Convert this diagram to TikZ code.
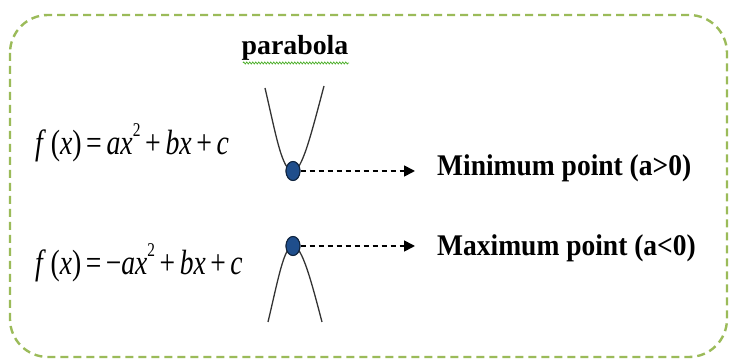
\documentclass[tikz,border=0pt]{standalone}
\usepackage{fontspec}
\setmainfont{Liberation Serif}
\usetikzlibrary{arrows.meta,decorations.pathmorphing,shapes.geometric}
\definecolor{boxgreen}{HTML}{9BBB59}
\definecolor{dotblue}{HTML}{1F4E8C}
\definecolor{dotedge}{HTML}{10243E}
\definecolor{squig}{HTML}{4CAF2A}
\newcommand{\sqtwo}{\raisebox{0.5em}{\fontsize{15}{15}\selectfont 2}}
\tikzset{
  frame/.style={draw=boxgreen, line width=2.4pt, dash pattern=on 8pt off 5pt, rounded corners=38pt},
  formula/.style={inner sep=0pt, anchor=west, font=\fontsize{27}{30}\selectfont},
  label/.style={inner sep=0pt, anchor=west, font=\bfseries\fontsize{25}{30}\selectfont},
  title/.style={inner sep=0pt, font=\bfseries\fontsize{24}{28}\selectfont},
  curve/.style={draw=black!80, line width=1.3pt},
  vertex/.style={ellipse, draw=dotedge, fill=dotblue, line width=1pt, minimum width=14pt, minimum height=19pt, inner sep=0pt},
  darrow/.style={draw=black, line width=1.7pt, dash pattern=on 5pt off 4pt, -{Triangle[length=11pt,width=11pt]}},
}
\begin{document}
\begin{tikzpicture}[x=1pt,y=-1pt]
\useasboundingbox (0,0) rectangle (729,363);
\draw[frame] (10,15) rectangle (727,357);
\node[title] (par) at (295,48) {\scalebox{1.16}[1.15]{parabola}};
\draw[squig, line width=0.7pt, decorate, decoration={zigzag, segment length=3pt, amplitude=1.1pt}] (243,63) -- (349,63);
\node[formula] (f1) at (35,143) {\scalebox{1.03}[1.3]{\textit{f}\,(\textit{x})\,=\,\textit{ax}\sqtwo\,+\,\textit{bx}\,+\,\textit{c}}};
\node[formula] (f2) at (35,263) {\scalebox{1.02}[1.3]{\textit{f}\,(\textit{x})\,=\,\textminus\textit{ax}\sqtwo\,+\,\textit{bx}\,+\,\textit{c}}};
\coordinate (u1) at (265,88);
\coordinate (u2) at (324,86);
\coordinate (l1) at (268,322);
\coordinate (l2) at (322,322);
\node[vertex] (d1) at (293,171) {};
\node[vertex] (d2) at (293,246) {};
\draw[curve] (u1) .. controls (276,135) and (282,171) .. (d1.center) .. controls (302,171) and (311,135) .. (u2);
\draw[curve] (l1) .. controls (278,280) and (284,246) .. (d2.center) .. controls (302,246) and (311,280) .. (l2);
\node[vertex] at (d1) {};
\node[vertex] at (d2) {};
\node[label] (mn) at (437,168) {\scalebox{1.1}[1.2]{Minimum point (a>0)}};
\node[label] (mx) at (437,248) {\scalebox{1.1}[1.2]{Maximum point (a<0)}};
\draw[darrow, shorten >=22pt] (d1.east) -- (d1.east -| mn.west);
\draw[darrow, shorten >=22pt] (d2.east) -- (d2.east -| mx.west);
\end{tikzpicture}
\end{document}
